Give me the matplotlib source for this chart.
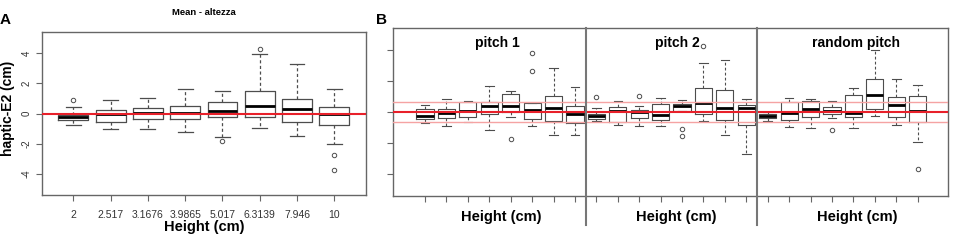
import matplotlib
matplotlib.use("Agg")
import matplotlib.pyplot as plt

plt.rcParams['font.family'] = ['Liberation Sans', 'DejaVu Sans']

# ---------------- Panel A data ----------------
heights_A = ["2", "2.517", "3.1676", "3.9865", "5.017", "6.3139", "7.946", "10"]
med_A = [-0.26, -0.04, 0.04, 0.04, 0.15, 0.48, 0.33, 0.00]
q1_A = [-0.44, -0.57, -0.37, -0.35, -0.26, -0.20, -0.57, -0.79]
q3_A = [-0.07, 0.26, 0.37, 0.48, 0.77, 1.52, 0.99, 0.44]
wlo_A = [-0.75, -1.01, -1.05, -1.23, -1.56, -0.97, -1.49, -2.00]
whi_A = [0.40, 0.88, 1.01, 1.63, 1.52, 3.96, 3.30, 1.65]
fl_A = [[0.92], [], [], [], [-1.80], [4.26], [], [-2.75, -3.76]]

# ---------------- Panel B data ----------------
groups_B = ["pitch 1", "pitch 2", "random pitch"]
med_B = [-0.28, -0.04, 0.09, 0.39, 0.39, 0.15, 0.26, -0.13,
         -0.24, 0.09, 0.00, -0.17, 0.39, 0.56, 0.26, 0.28,
         -0.22, -0.04, 0.22, 0.06, -0.04, 1.08, 0.49, 0.06]
q1_B = [-0.43, -0.37, -0.30, -0.13, 0.00, -0.47, -0.54, -0.73,
        -0.43, -0.62, -0.39, -0.49, 0.06, -0.13, -0.49, -0.82,
        -0.39, -0.49, -0.34, -0.15, -0.34, 0.22, -0.34, -0.65]
q3_B = [0.22, 0.22, 0.67, 0.67, 1.14, 0.60, 1.03, 0.39,
        -0.09, 0.32, 0.15, 0.54, 0.54, 1.53, 1.40, 0.45,
        -0.09, 0.67, 0.69, 0.34, 1.08, 2.15, 0.95, 1.03]
wlo_B = [-0.69, -0.92, -0.62, -1.16, -0.30, -0.92, -1.44, -1.48,
         -0.58, -0.84, -0.86, -0.86, 0.06, -0.60, -1.48, -2.69,
         -0.56, -0.95, -0.99, -0.37, -0.99, -0.28, -0.80, -1.94]
whi_B = [0.45, 0.86, 0.71, 1.68, 1.35, 0.60, 2.82, 1.61,
         0.24, 0.69, 0.39, 0.92, 0.80, 3.14, 3.33, 0.82,
         -0.02, 0.90, 0.86, 0.75, 1.55, 4.00, 2.11, 1.72]
fl_B = [[], [], [], [], [-1.76], [2.62, 3.83], [], [],
        [0.95], [], [1.05], [], [-1.08, -1.55], [4.26], [], [],
        [], [], [], [-1.14], [], [], [], [-3.66]]
band_B = [-0.66, 0.66]

AX_COL = '#666666'
BOX_COL = '#4d4d4d'
TXT_COL = '#333333'
RED = '#e8202a'


def stats(med, q1, q3, wlo, whi, fl):
    return [dict(med=m, q1=a, q3=b, whislo=lo, whishi=hi, fliers=f)
            for m, a, b, lo, hi, f in zip(med, q1, q3, wlo, whi, fl)]


def draw_boxes(ax, st, lw):
    ax.bxp(st, positions=range(1, len(st) + 1), widths=0.8, capwidths=0.4,
           showfliers=True, patch_artist=False,
           boxprops=dict(color=BOX_COL, lw=lw),
           medianprops=dict(color='black', lw=2.0),
           whiskerprops=dict(color=BOX_COL, lw=lw, linestyle=(0, (2.5, 2))),
           capprops=dict(color=BOX_COL, lw=lw),
           flierprops=dict(marker='o', markersize=3.2, markerfacecolor='none',
                           markeredgecolor=BOX_COL, markeredgewidth=0.7))


def style_axes(ax):
    for s in ax.spines.values():
        s.set_color(AX_COL)
        s.set_linewidth(1.0)
    ax.tick_params(colors=AX_COL, labelcolor=TXT_COL, direction='out', length=4, width=0.8)


fig = plt.figure(figsize=(9.54, 2.4), dpi=100)
W, H = 954.0, 240.0

# ---------------- Panel A ----------------
axA = fig.add_axes([42 / W, 1 - 195 / H, 324 / W, 163 / H])
draw_boxes(axA, stats(med_A, q1_A, q3_A, wlo_A, whi_A, fl_A), 0.9)
axA.axhline(0, color=RED, lw=1.5, zorder=5)
axA.set_xlim(0.16, 8.85)
axA.set_ylim(-5.4, 5.4)
axA.set_yticks([-4, -2, 0, 2, 4])
axA.set_yticklabels(['-4', '-2', '0', '2', '4'], rotation=90, va='center', fontsize=7)
axA.set_xticks(range(1, 9))
axA.set_xticklabels(heights_A, fontsize=7.5)
style_axes(axA)
axA.tick_params(axis='x', pad=7)
axA.set_xlabel('Height (cm)', fontsize=10.5, fontweight='bold', color='black', labelpad=0)
axA.set_title('Mean - altezza', fontsize=6.8, fontweight='bold', pad=12)
fig.text(8 / W, 1 - 108 / H, 'haptic-E2 (cm)', rotation=90, ha='center', va='center',
         fontsize=10, fontweight='bold')
fig.text(0 / W, 1 - 20 / H, 'A', ha='left', va='center', fontsize=11, fontweight='bold')

# ---------------- Panel B ----------------
axB = fig.add_axes([393.3 / W, 1 - 196 / H, 555 / W, 167.7 / H])
for b in band_B:
    axB.axhline(b, color='#f5a3a3', lw=1.0, zorder=4)
draw_boxes(axB, stats(med_B, q1_B, q3_B, wlo_B, whi_B, fl_B), 0.8)
axB.axhline(0, color=RED, lw=1.5, zorder=5)
axB.set_xlim(-0.48, 25.43)
axB.set_ylim(-5.4, 5.4)
axB.set_yticks([-4, -2, 0, 2, 4])
axB.set_yticklabels([])
axB.set_xticks(range(1, 25))
axB.set_xticklabels([])
style_axes(axB)
for sep in (8.5, 16.5):
    axB.axvline(sep, ymin=-0.173, ymax=1, color='#777777', lw=1.5, clip_on=False, zorder=6)

title_x = [4.39, 12.79, 21.1]
label_x = [4.58, 12.72, 21.19]
for g, tx, lx in zip(groups_B, title_x, label_x):
    axB.text(tx, 4.45, g, ha='center', va='center', fontsize=10, fontweight='bold')
    axB.annotate('Height (cm)', xy=(lx, 0), xycoords=('data', 'axes fraction'),
                 xytext=(0, -21), textcoords='offset pixels', ha='center', va='center',
                 fontsize=10.5, fontweight='bold', annotation_clip=False)
fig.text(376 / W, 1 - 20 / H, 'B', ha='left', va='center', fontsize=11, fontweight='bold')

fig.savefig('out.png', dpi=100)
